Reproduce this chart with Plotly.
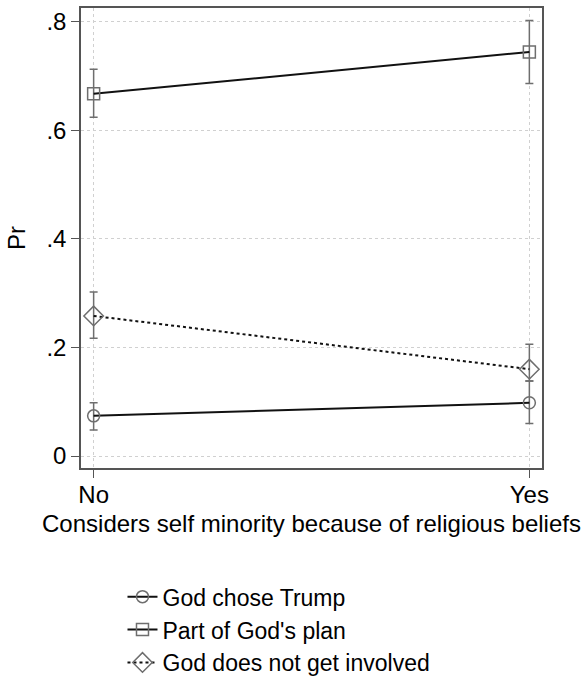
import plotly.graph_objects as go

# Predicted probabilities by group, with 95% confidence bounds
groups = ["No", "Yes"]

chose_trump = [0.074, 0.098]
chose_trump_lo = [0.048, 0.060]
chose_trump_hi = [0.098, 0.138]

gods_plan = [0.667, 0.744]
gods_plan_lo = [0.624, 0.686]
gods_plan_hi = [0.712, 0.802]

not_involved = [0.258, 0.160]
not_involved_lo = [0.217, 0.138]
not_involved_hi = [0.302, 0.206]

series_names = ["God chose Trump", "Part of God's plan", "God does not get involved"]

y_ticks = [0, 0.2, 0.4, 0.6, 0.8]
y_tick_text = ["0", ".2", ".4", ".6", ".8"]

FONT = "Liberation Sans, Arial, Helvetica, sans-serif"
FSIZE = 24
MARK_GRAY = "#6e6e6e"


def series(name, y, lo, hi, symbol, dash, msize):
    return go.Scatter(
        x=groups,
        y=y,
        name=name,
        mode="lines+markers",
        line=dict(color="#111111", width=2, dash=dash),
        marker=dict(symbol=symbol, size=msize, color=MARK_GRAY,
                    line=dict(color=MARK_GRAY, width=1.5)),
        error_y=dict(
            type="data",
            symmetric=False,
            array=[h - v for h, v in zip(hi, y)],
            arrayminus=[v - l for v, l in zip(y, lo)],
            color=MARK_GRAY,
            thickness=1.5,
            width=4,
        ),
    )


fig = go.Figure()
fig.add_trace(series(series_names[0], chose_trump, chose_trump_lo, chose_trump_hi,
                     "circle-open", "solid", 12))
fig.add_trace(series(series_names[1], gods_plan, gods_plan_lo, gods_plan_hi,
                     "square-open", "solid", 12))
fig.add_trace(series(series_names[2], not_involved, not_involved_lo, not_involved_hi,
                     "diamond-open", "dot", 15))

fig.update_layout(
    width=586,
    height=679,
    margin=dict(l=81, r=44, t=8, b=211, autoexpand=False),
    paper_bgcolor="white",
    plot_bgcolor="white",
    font=dict(family=FONT, size=FSIZE, color="black"),
    showlegend=True,
    legend=dict(
        x=0.09, xanchor="left",
        y=-0.233, yanchor="top",
        font=dict(family=FONT, size=23, color="black"),
        bgcolor="rgba(0,0,0,0)",
        itemwidth=30,
        tracegroupgap=0,
    ),
)

fig.update_xaxes(
    type="category",
    categoryorder="array",
    categoryarray=groups,
    range=[-0.029, 1.029],
    showline=True, mirror=True, linecolor="#555555", linewidth=1.5,
    ticks="outside", ticklen=8, tickcolor="#555555", tickwidth=1,
    ticklabelstandoff=-4,
    showgrid=True, gridcolor="#d0d0d0", griddash="dot", gridwidth=1,
    title=dict(text="Considers self minority because of religious beliefs",
               font=dict(size=FSIZE), standoff=9),
    tickfont=dict(size=FSIZE),
    zeroline=False,
)

fig.update_yaxes(
    range=[-0.022, 0.825],
    tickvals=y_ticks,
    ticktext=y_tick_text,
    showline=True, mirror=True, linecolor="#555555", linewidth=1.5,
    ticks="outside", ticklen=8, tickcolor="#555555", tickwidth=1,
    showgrid=True, gridcolor="#d0d0d0", griddash="dot", gridwidth=1,
    title=dict(text="Pr", font=dict(size=FSIZE), standoff=14),
    tickfont=dict(size=FSIZE),
    zeroline=False,
)

fig.write_html("out.html")
